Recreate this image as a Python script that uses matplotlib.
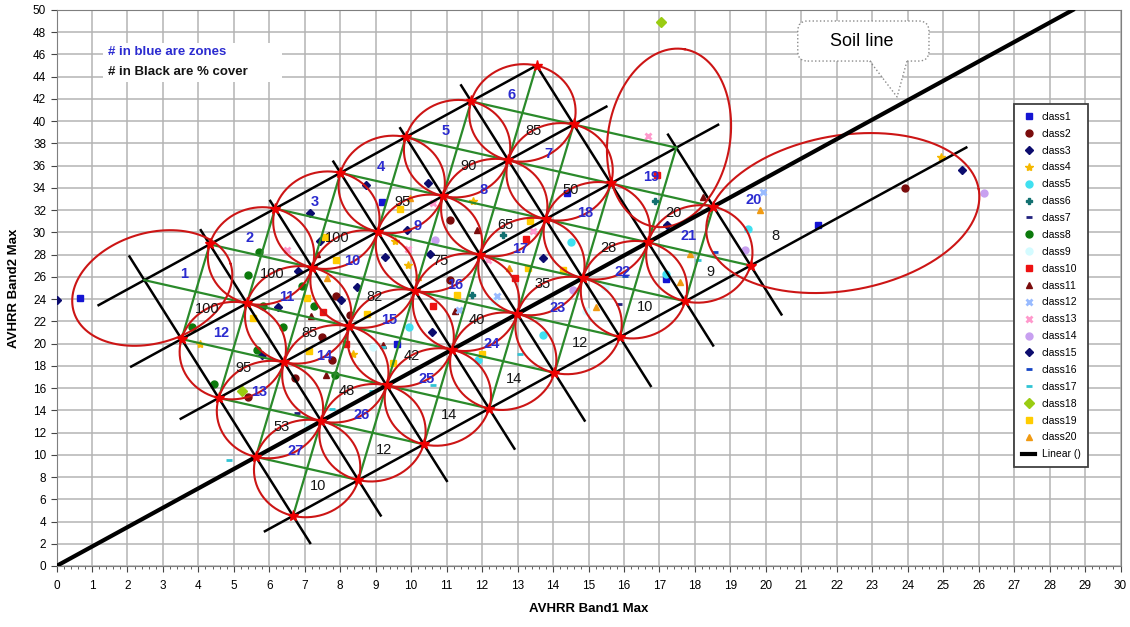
import numpy as np
import matplotlib.pyplot as plt
from matplotlib.patches import FancyBboxPatch, Polygon, Rectangle

plt.rcParams["font.family"] = ["Liberation Sans", "DejaVu Sans"]

# ---- band1 / band2 maxima per land-cover class ----------------------------
class1 = [(0.66, 24.1), (9.17, 32.7), (9.59, 20.0), (14.38, 33.5), (21.48, 30.7), (17.18, 25.8)]
class2 = [(7.88, 24.3), (8.27, 22.6), (11.1, 31.1), (5.41, 15.2), (7.48, 20.6), (7.76, 18.5),
          (6.72, 16.9), (23.92, 34.0), (11.09, 25.7)]
class3 = [(6.24, 23.3), (7.43, 29.2), (8.02, 23.9), (8.73, 34.3), (9.26, 27.8), (10.53, 28.1),
          (10.47, 34.4), (5.79, 19.0), (7.15, 31.7), (9.89, 30.2), (13.71, 27.7), (17.2, 30.7),
          (8.46, 25.1)]
class4 = [(9.91, 27.1), (4.05, 20.0), (8.35, 19.1), (9.54, 29.2), (11.73, 32.8), (24.93, 36.8)]
class5 = [(9.94, 21.5), (13.72, 20.8), (11.89, 18.5), (14.52, 29.1), (19.5, 30.3), (17.18, 26.3)]
class6 = [(12.6, 29.8), (16.87, 32.8), (11.71, 24.4)]
class7 = [(15.87, 23.6), (6.77, 13.8)]
class8 = [(3.81, 21.5), (5.40, 26.2), (5.72, 28.2), (5.81, 23.4), (6.38, 21.5), (6.91, 25.2),
          (7.27, 23.4), (4.44, 16.4), (5.66, 19.4), (7.85, 17.2)]
class9 = [(14.93, 22.9), (15.46, 25.1), (7.1, 12.5), (8.92, 19.7), (12.33, 23.8)]
class10 = [(7.52, 22.8), (8.16, 20.0), (10.61, 23.4), (16.92, 35.2), (13.24, 29.4), (12.93, 25.9)]
class11 = [(7.17, 22.5), (11.23, 22.9), (9.21, 19.9), (7.59, 17.2), (11.85, 30.2), (7.34, 28.1),
           (18.24, 33.2)]
class12 = [(19.93, 33.6), (12.42, 24.3), (11.35, 23.0)]
class13 = [(16.69, 38.7), (10.62, 32.6), (9.92, 28.5), (13.44, 30.1), (12.17, 27.5), (6.49, 28.4)]
class14 = [(19.41, 28.4), (26.15, 33.5), (14.55, 24.8), (10.67, 29.3)]
class15 = [(0.0, 23.9), (6.8, 26.5), (10.6, 21.0), (25.52, 35.6)]
class16 = [(18.57, 28.2), (16.03, 26.1)]
class17 = [(4.87, 9.5), (7.76, 14.1), (8.89, 15.7), (10.62, 16.3), (13.07, 19.1), (18.09, 27.5),
           (9.21, 19.7)]
class18 = [(17.04, 48.9), (5.22, 15.7)]
class19 = [(5.54, 22.3), (7.05, 24.1), (9.68, 32.1), (9.48, 18.3), (11.28, 24.4), (7.13, 19.3),
           (7.57, 29.6), (7.88, 27.5), (8.75, 22.7), (13.35, 31.0), (13.3, 26.8), (14.29, 26.6),
           (11.99, 19.1)]
class20 = [(7.62, 25.9), (9.97, 33.1), (12.77, 26.8), (10.2, 26.0), (17.86, 28.1), (19.83, 32.0),
           (17.58, 25.5), (15.21, 23.3)]

CLASSES = [class1, class2, class3, class4, class5, class6, class7, class8, class9, class10,
           class11, class12, class13, class14, class15, class16, class17, class18, class19, class20]

# zone number and % cover for each cell of the tasselled grid, one list per grid row
ZONES = [[1, 2, 3, 4, 5, 6],
         [12, 11, 10, 9, 8, 7],
         [13, 14, 15, 16, 17, 18, 19],
         [27, 26, 25, 24, 23, 22, 21, 20]]
COVER = [[100, 100, 100, 95, 90, 85],
         [95, 85, 82, 75, 65, 50],
         [53, 48, 42, 40, 35, 28, 20],
         [10, 12, 14, 14, 12, 10, 9, 8]]

SOIL_SLOPE = 1.745

# ---- geometry of the overlay ----------------------------------------------
GRID_ORIGIN = (4.32, 28.925)      # node (0, 0)
STEP_ALONG = (1.843, 3.216)       # parallel to the soil line
STEP_ACROSS = (1.048, -5.30)      # towards the soil line
NODE_COLS = {0: (0, 5), 1: (-1, 5), 2: (-1, 5), 3: (-1, 6), 4: (-1, 6)}
ROW_SPANS = {0: (-1.7, 5.0), 1: (-1.77, 5.5), 2: (-1.58, 6.64), 4: (-1.43, 9.3)}
COL_SPANS = {-1: (-0.4, 4.46), 0: (-0.24, 4.6), 1: (-0.13, 4.62), 2: (-0.19, 4.68),
             3: (-0.15, 4.81), 4: (-0.27, 4.83), 5: (0.0, 4.75), 6: (1.78, 4.83)}
# zones drawn as free ellipses: centre (data), semi axes (px), tilt (deg)
FREE_ELLIPSES = {1: ((2.7, 25.0), 82, 55, 17),
                 19: ((17.27, 38.5), 90, 61, 80),
                 20: ((22.17, 31.74), 138, 77.5, 10)}

CLASS_STYLE = [("s", "#1414d2", 4, 1), ("o", "#7a0c0c", 5, 1), ("D", "#0c0c6e", 4, 1),
               ("*", "#f5b800", 6, 1), ("o", "#3fe0f0", 5, 1), ("P", "#127070", 5, 1),
               ("_", "#22227f", 5, 2), ("o", "#0c7a0c", 5, 1), ("o", "#d4fbff", 5, 1),
               ("s", "#ee1111", 5, 1), ("^", "#7a0c0c", 5, 1), ("x", "#99bbff", 5, 2),
               ("x", "#ff99cc", 5, 2), ("o", "#c8a0f0", 5, 1), ("D", "#0c0c6e", 4, 1),
               ("_", "#1444c4", 4, 2), ("_", "#30c4d4", 5, 2), ("D", "#9acc12", 5, 1),
               ("s", "#ffcc00", 5, 1), ("^", "#f09a12", 5, 1)]

FIG_W, FIG_H = 1130, 627
AX_LEFT, AX_BOTTOM, AX_W, AX_H = 56.5, 61, 1064, 556
PX_X, PX_Y = AX_W / 30, AX_H / 50

RED, GREEN, BLUE = "#cc1515", "#2a8a2a", "#2b2bd0"


def node(i, j):
    return (GRID_ORIGIN[0] + i * STEP_ALONG[0] + j * STEP_ACROSS[0],
            GRID_ORIGIN[1] + i * STEP_ALONG[1] + j * STEP_ACROSS[1])


def free_ellipse(center, ra, rb, ang):
    t = np.linspace(0, 2 * np.pi, 240)
    th = np.radians(ang)
    dx = ra * np.cos(t) * np.cos(th) - rb * np.sin(t) * np.sin(th)
    dy = ra * np.cos(t) * np.sin(th) + rb * np.sin(t) * np.cos(th)
    return center[0] + dx / PX_X, center[1] + dy / PX_Y


fig = plt.figure(figsize=(FIG_W / 100, FIG_H / 100), dpi=100)
ax = fig.add_axes([AX_LEFT / FIG_W, AX_BOTTOM / FIG_H, AX_W / FIG_W, AX_H / FIG_H])
ax.set_xlim(0, 30)
ax.set_ylim(0, 50)

# class scatter
for n, (pts, (mk, col, ms, mew)) in enumerate(zip(CLASSES, CLASS_STYLE), start=1):
    xs, ys = zip(*pts)
    ax.plot(xs, ys, ls="none", marker=mk, color=col, ms=ms, mew=mew, label=f"class{n}", zorder=3)

# black grid lines: rows parallel to the soil line, columns across it
for j, (s, e) in ROW_SPANS.items():
    (x0, y0), (x1, y1) = node(s, j), node(e, j)
    ax.plot([x0, x1], [y0, y1], color="black", lw=1.8, zorder=4)
for i, (s, e) in COL_SPANS.items():
    (x0, y0), (x1, y1) = node(i, s), node(i, e)
    ax.plot([x0, x1], [y0, y1], color="black", lw=1.8, zorder=4)

# soil line
ax.plot([0, 50 / SOIL_SLOPE], [0, 50], color="black", lw=3, label="Linear ()", zorder=5)

# green diagonals through the nodes
nodes = [(i, j) for j, (a, b) in NODE_COLS.items() for i in range(a, b + 1)]
green_nodes = nodes + [(-1, 0), (6, 2)]
for key in (lambda p: p[0] - p[1], lambda p: p[0] + p[1]):
    groups = {}
    for p in green_nodes:
        groups.setdefault(key(p), []).append(p)
    for members in groups.values():
        if len(members) < 2:
            continue
        members.sort()
        (x0, y0), (x1, y1) = node(*members[0]), node(*members[-1])
        ax.plot([x0, x1], [y0, y1], color=GREEN, lw=1.6, zorder=4)

# red circles around each cell, free ellipses for the edge zones
t = np.linspace(0, 2 * np.pi, 160)
ux = (STEP_ALONG[0] + STEP_ACROSS[0]) / 2, (STEP_ALONG[1] + STEP_ACROSS[1]) / 2
vx = (STEP_ALONG[0] - STEP_ACROSS[0]) / 2, (STEP_ALONG[1] - STEP_ACROSS[1]) / 2
for j, row in enumerate(ZONES):
    for n, zone in enumerate(row):
        i = n - 1
        if zone in FREE_ELLIPSES:
            ex, ey = free_ellipse(*FREE_ELLIPSES[zone])
        else:
            cx, cy = node(i + 0.5, j + 0.5)
            ex = cx + np.cos(t) * ux[0] + np.sin(t) * vx[0]
            ey = cy + np.cos(t) * ux[1] + np.sin(t) * vx[1]
        ax.plot(ex, ey, color=RED, lw=1.5, zorder=4)
        zx, zy = node(i + 0.5, j + 0.2)
        ax.text(zx, zy, str(zone), color=BLUE, fontsize=10.5, fontweight="bold",
                ha="center", va="center", zorder=7)
        px, py = node(i + 0.5, j + 0.8)
        ax.text(px, py, str(COVER[j][n]), color="#151515", fontsize=10.5,
                ha="center", va="center", zorder=7)

# red node markers
nx, ny = zip(*[node(i, j) for i, j in nodes])
ax.plot(nx, ny, ls="none", marker="*", color="#ee0000", ms=8, zorder=6)

# key text in the top-left corner
ax.add_patch(Rectangle((1.31, 43.53), 5.05, 3.5, facecolor="white", edgecolor="none", zorder=6))
ax.text(1.45, 46.2, "# in blue are zones", color=BLUE, fontsize=9.5, fontweight="bold",
        va="center", zorder=7)
ax.text(1.45, 44.42, "# in Black are % cover", color="#151515", fontsize=9.5, fontweight="bold",
        va="center", zorder=7)

# "Soil line" callout
ax.add_patch(FancyBboxPatch((20.9, 45.41), 3.7, 3.6, boxstyle="round,pad=0,rounding_size=0.28",
                            mutation_aspect=PX_X / PX_Y, facecolor="white", edgecolor="#8a8a8a",
                            lw=1, ls=":", zorder=8))
ax.add_patch(Polygon([(22.93, 45.6), (23.98, 45.6), (23.70, 42.18)], closed=True,
                     facecolor="white", edgecolor="none", zorder=9))
ax.plot([22.93, 23.70, 23.98], [45.41, 42.18, 45.41], color="#8a8a8a", lw=1, ls=":", zorder=9)
ax.text(22.71, 47.15, "Soil line", fontsize=13, ha="center", va="center", zorder=10)

# axes dressing
ax.set_xticks(range(0, 31))
ax.set_xticks(np.arange(0, 30.01, 0.2), minor=True)
ax.set_yticks(range(0, 51, 2))
ax.grid(True, which="major", color="#b4b4b4", lw=1.1)
ax.set_axisbelow(True)
ax.tick_params(which="major", labelsize=8.5, length=4, color="#444444")
ax.tick_params(axis="x", which="major", pad=6)
ax.tick_params(which="minor", length=2.5, color="#444444")
for sp in ax.spines.values():
    sp.set_color("#7f7f7f")
ax.set_xlabel("AVHRR Band1 Max", fontsize=9.5, fontweight="bold", labelpad=8)
ax.set_ylabel("AVHRR Band2 Max", fontsize=9.5, fontweight="bold", labelpad=9)

leg = ax.legend(loc="upper left", bbox_to_anchor=(0.9, 0.831), fontsize=7.5, frameon=True,
                fancybox=False, framealpha=1, edgecolor="#404040", borderpad=0.75,
                labelspacing=0.66, handlelength=1.3, handletextpad=0.6, borderaxespad=0)
leg.get_frame().set_linewidth(1.3)
leg.set_zorder(12)

fig.savefig("out.png", dpi=100)
